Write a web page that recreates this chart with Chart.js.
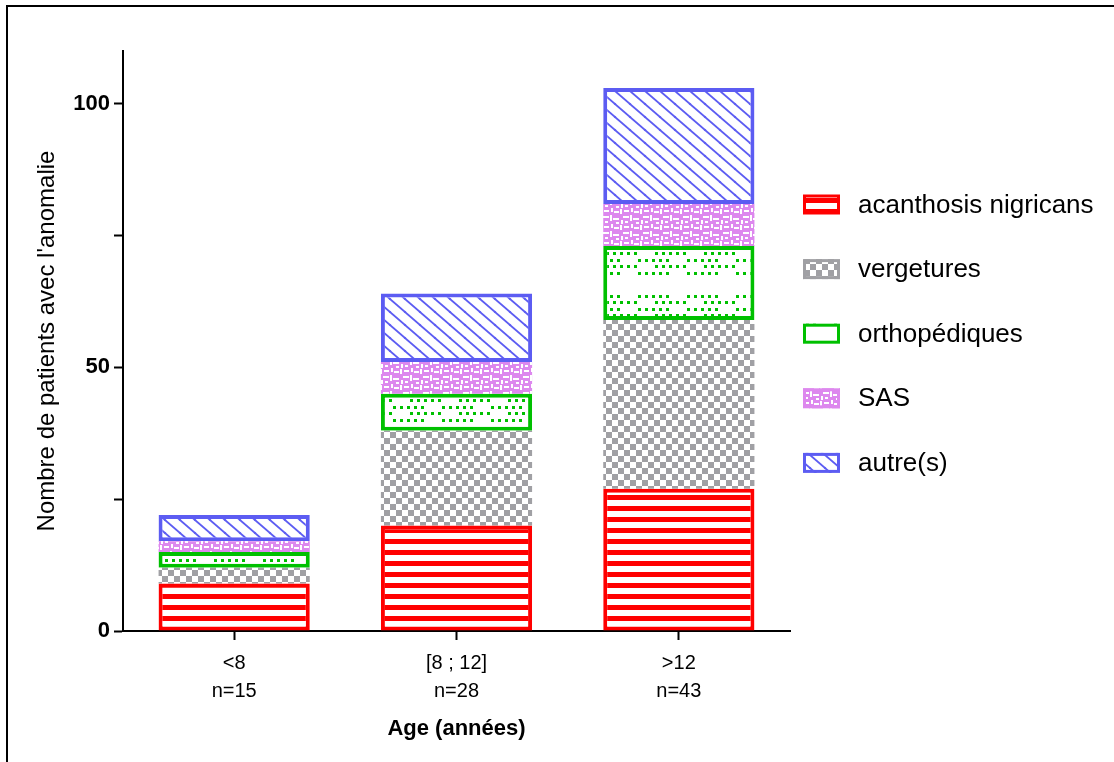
<!DOCTYPE html>
<html>
<head>
<meta charset="utf-8">
<script src="https://cdn.jsdelivr.net/npm/chart.js@4.4.1/dist/chart.umd.min.js"></script>
<style>
html,body{margin:0;padding:0;background:#fff;overflow:hidden}
#wrap{position:absolute;left:0;top:0;width:1114px;height:762px}
#frame{position:absolute;left:6px;top:5px;width:1200px;height:900px;border-top:2px solid #000;border-left:2px solid #000}
#c{position:absolute;left:0;top:0}
</style>
</head>
<body>
<div id="wrap"><div id="frame"></div><canvas id="c" width="1114" height="762"></canvas></div>
<script>
// ---- data ----
const categories = [['<8', 'n=15'], ['[8 ; 12]', 'n=28'], ['>12', 'n=43']];
const seriesNames = ['acanthosis nigricans', 'vergetures', 'orthopédiques', 'SAS', 'autre(s)'];
const acanthosis = [9, 20, 27];
const vergetures = [3, 18, 32];
const orthopediques = [3, 7, 14];
const sas = [2, 6, 8];
const autres = [5, 13, 22];
const yTickValues = [0, 25, 50, 75, 100];
const yTickLabels = {0: '0', 50: '50', 100: '100'};
const yMax = 110;
const xTitle = 'Age (années)';
const yTitle = "Nombre de patients avec l'anomalie";

// ---- colours / patterns ----
const RED = '#ff0000', GRAY = '#a0a0a4', GREEN = '#00c000', PINK = '#dd88ee', BLUE = '#5c5cf2';
function tile(w, h, draw) {
  const c = document.createElement('canvas'); c.width = w; c.height = h;
  const g = c.getContext('2d'); draw(g, w, h);
  return document.getElementById('c').getContext('2d').createPattern(c, 'repeat');
}
const redPat = tile(4, 11, (g, w, h) => { g.fillStyle = '#fff'; g.fillRect(0,0,w,h); g.fillStyle = RED; g.fillRect(0,0,w,5); });
const grayPat = tile(12, 12, (g) => { g.fillStyle = GRAY; g.fillRect(0,0,12,12); g.fillStyle = '#fff'; g.fillRect(0,0,6,6); g.fillRect(6,6,6,6); });
const greenPat = tile(49, 49, (g) => {
  g.fillStyle = '#fff'; g.fillRect(0,0,49,49); g.fillStyle = GREEN;
  const rows = [1, 7, 14, 20, 27];
  rows.forEach((y, r) => {
    for (let k = 0; k < 7; k++) {
      if (r % 2 === 0) { if (k <= 4) g.fillRect(7*k + 1, y, 3, 3); }
      else { if (k >= 2) g.fillRect((7*k + 4) % 49, y, 3, 3); }
    }
  });
});
const pinkPat = tile(20, 16, (g) => {
  g.fillStyle = PINK; g.fillRect(0,0,20,16); g.fillStyle = '#fff';
  [[0,1,2,5],[4,2,5,2],[11,0,2,4],[14,3,5,2],[3,8,6,2],[10,7,2,6],[13,10,6,2],[1,12,2,4],[5,13,3,2],[16,14,3,2]]
    .forEach(r => g.fillRect(r[0], r[1], r[2], r[3]));
});
const bluePat = tile(15, 13, (g) => {
  g.fillStyle = '#fff'; g.fillRect(0,0,15,13);
  g.strokeStyle = BLUE; g.lineWidth = 1.8;
  [[0,0],[15,0],[-15,0],[0,13],[0,-13]].forEach(o => {
    g.beginPath(); g.moveTo(o[0] - 15, o[1] - 13); g.lineTo(o[0] + 30, o[1] + 26); g.stroke();
  });
});

const seriesValues = [acanthosis, vergetures, orthopediques, sas, autres];
const fills = [redPat, grayPat, greenPat, pinkPat, bluePat];
const borders = [RED, GRAY, GREEN, PINK, BLUE];
const borderWidths = [4, 0, 4, 0, 4];

const datasets = seriesNames.map((name, i) => ({
  label: name,
  data: seriesValues[i],
  backgroundColor: fills[i],
  borderColor: borders[i],
  borderWidth: borderWidths[i],
  borderSkipped: false,
  barPercentage: 0.68,
  categoryPercentage: 1.0
}));

const sideLegend = {
  id: 'sideLegend',
  afterDraw(chart) {
    const ctx = chart.ctx, ca = chart.chartArea;
    chart.data.datasets.forEach((ds, i) => {
      const x = ca.right + 13, yc = 204.5 + i * 64.6;
      ctx.save();
      ctx.fillStyle = ds.backgroundColor;
      ctx.fillRect(x, yc - 10, 37, 20);
      ctx.lineWidth = 3; ctx.strokeStyle = ds.borderColor;
      ctx.strokeRect(x + 1.5, yc - 8.5, 34, 17);
      ctx.fillStyle = '#000';
      ctx.font = '26px "Liberation Sans", Arial, sans-serif';
      ctx.textBaseline = 'middle';
      ctx.fillText(ds.label, x + 55, yc + 1);
      ctx.restore();
    });
  }
};

Chart.defaults.font.family = '"Liberation Sans", Arial, sans-serif';
Chart.defaults.color = '#000';

new Chart(document.getElementById('c'), {
  type: 'bar',
  data: { labels: categories, datasets },
  plugins: [sideLegend],
  options: {
    responsive: false,
    animation: false,
    layout: { padding: { left: 0, top: 51, right: 324, bottom: 0 } },
    plugins: { legend: { display: false }, tooltip: { enabled: false } },
    scales: {
      x: {
        stacked: true,
        offset: true,
        afterFit: s => { s.height = 131; },
        grid: { offset: false, drawOnChartArea: false, drawTicks: true, tickLength: 9, tickWidth: 2, tickColor: '#000' },
        border: { display: true, color: '#000', width: 2 },
        ticks: { padding: 9, font: { size: 20, lineHeight: 1.4 }, color: '#000', maxRotation: 0 },
        title: { display: true, text: xTitle, font: { size: 22, weight: 'bold' }, color: '#000', padding: { top: 0, bottom: 20 } }
      },
      y: {
        stacked: true,
        min: 0, max: yMax,
        afterFit: s => { s.width = 123; },
        afterBuildTicks: s => { s.ticks = yTickValues.map(v => ({ value: v })); },
        grid: { drawOnChartArea: false, drawTicks: true, tickLength: 9, tickWidth: 2, tickColor: '#000' },
        border: { display: true, color: '#000', width: 2 },
        ticks: {
          padding: 4,
          font: { size: 22, weight: 'bold' },
          color: '#000',
          callback: v => (yTickLabels[v] !== undefined ? yTickLabels[v] : '')
        },
        title: { display: true, text: yTitle, font: { size: 24 }, color: '#000', padding: { top: 33, bottom: 0 } }
      }
    }
  }
});
</script>
</body>
</html>
